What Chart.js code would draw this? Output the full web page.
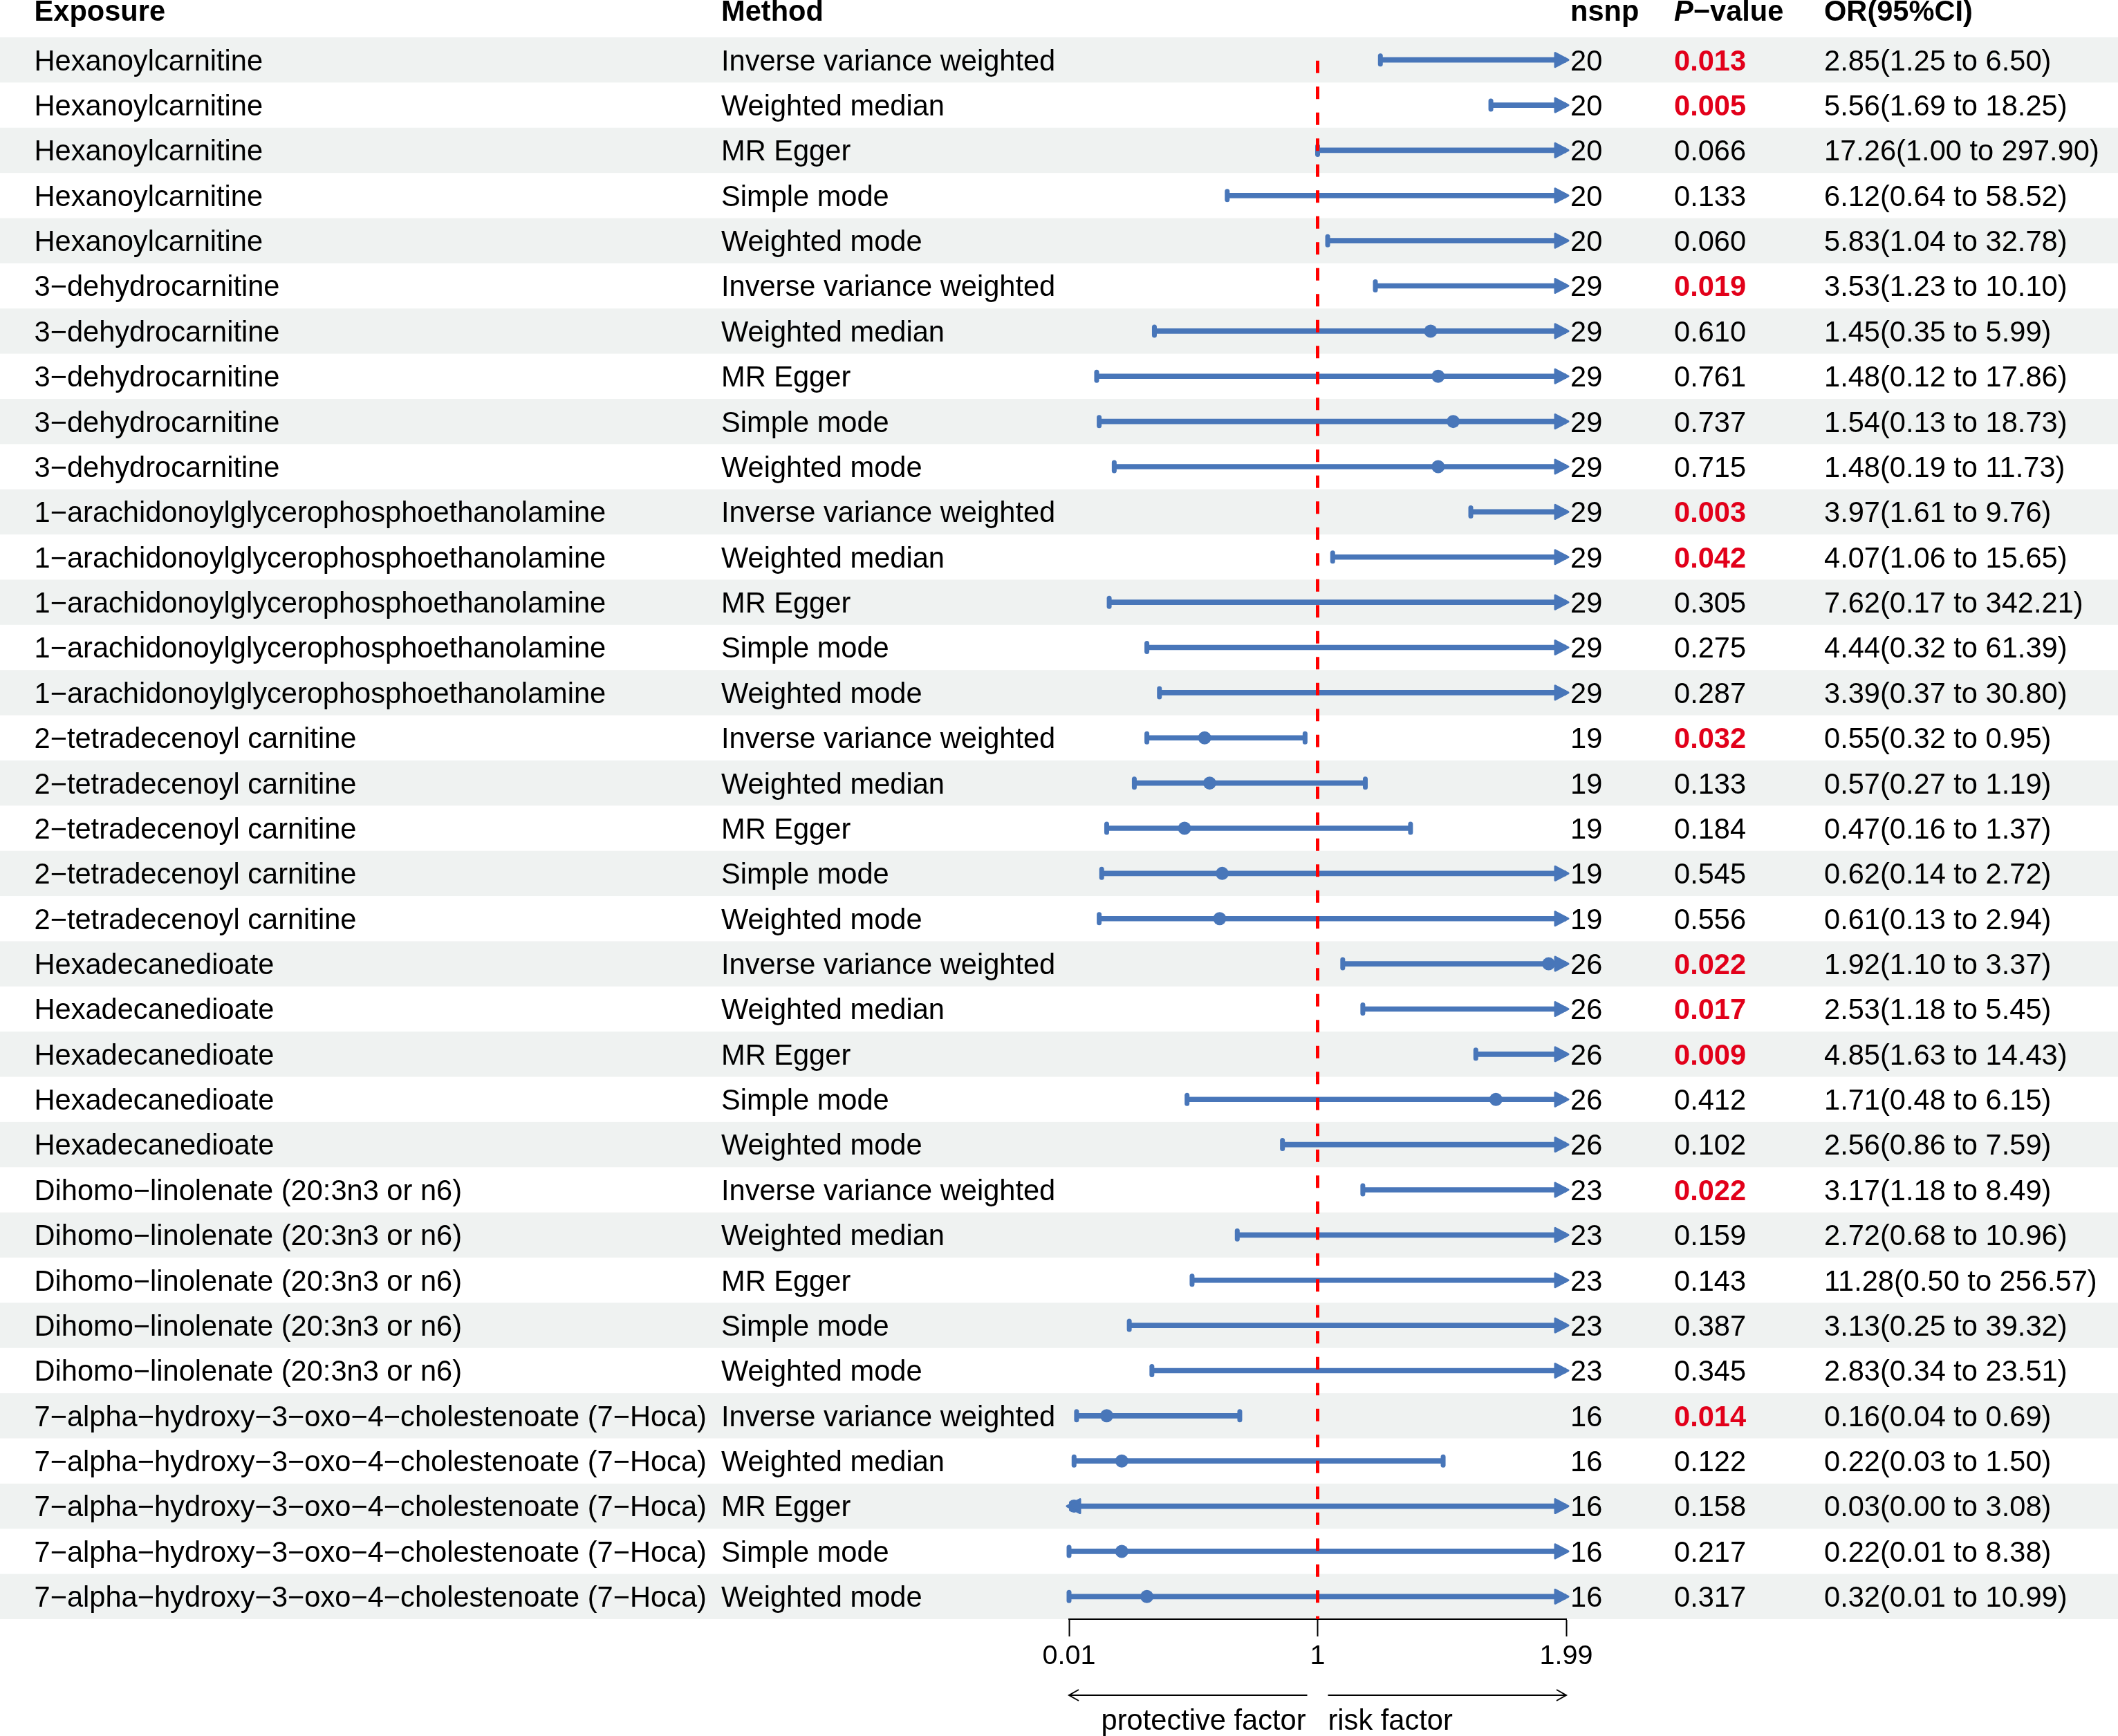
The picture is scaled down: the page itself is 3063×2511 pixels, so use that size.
<!DOCTYPE html>
<html>
<head>
<meta charset="utf-8">
<script src="https://cdn.jsdelivr.net/npm/chart.js@4.4.1/dist/chart.umd.min.js"></script>
<style>
html,body{margin:0;padding:0;background:#fff;}
#wrap{width:3063px;height:2511px;position:relative;}
canvas{display:block;}
</style>
</head>
<body>
<div id="wrap"><canvas id="c" width="3063" height="2511" style="width:3063px;height:2511px"></canvas></div>
<script>
// ---------------- data ----------------
const exposures = [
  "Hexanoylcarnitine",
  "3\u2212dehydrocarnitine",
  "1\u2212arachidonoylglycerophosphoethanolamine",
  "2\u2212tetradecenoyl carnitine",
  "Hexadecanedioate",
  "Dihomo\u2212linolenate (20:3n3 or n6)",
  "7\u2212alpha\u2212hydroxy\u22123\u2212oxo\u22124\u2212cholestenoate (7\u2212Hoca)"
];
const methods = ["Inverse variance weighted","Weighted median","MR Egger","Simple mode","Weighted mode"];
const nsnp = [20, 29, 29, 19, 26, 23, 16];
const pValues = [
  0.013, 0.005, 0.066, 0.133, 0.060,
  0.019, 0.610, 0.761, 0.737, 0.715,
  0.003, 0.042, 0.305, 0.275, 0.287,
  0.032, 0.133, 0.184, 0.545, 0.556,
  0.022, 0.017, 0.009, 0.412, 0.102,
  0.022, 0.159, 0.143, 0.387, 0.345,
  0.014, 0.122, 0.158, 0.217, 0.317
];
const orValues = [
  2.85, 5.56, 17.26, 6.12, 5.83,
  3.53, 1.45, 1.48, 1.54, 1.48,
  3.97, 4.07, 7.62, 4.44, 3.39,
  0.55, 0.57, 0.47, 0.62, 0.61,
  1.92, 2.53, 4.85, 1.71, 2.56,
  3.17, 2.72, 11.28, 3.13, 2.83,
  0.16, 0.22, 0.03, 0.22, 0.32
];
const ciLower = [
  1.25, 1.69, 1.00, 0.64, 1.04,
  1.23, 0.35, 0.12, 0.13, 0.19,
  1.61, 1.06, 0.17, 0.32, 0.37,
  0.32, 0.27, 0.16, 0.14, 0.13,
  1.10, 1.18, 1.63, 0.48, 0.86,
  1.18, 0.68, 0.50, 0.25, 0.34,
  0.04, 0.03, 0.00, 0.01, 0.01
];
const ciUpper = [
  6.50, 18.25, 297.90, 58.52, 32.78,
  10.10, 5.99, 17.86, 18.73, 11.73,
  9.76, 15.65, 342.21, 61.39, 30.80,
  0.95, 1.19, 1.37, 2.72, 2.94,
  3.37, 5.45, 14.43, 6.15, 7.59,
  8.49, 10.96, 256.57, 39.32, 23.51,
  0.69, 1.50, 3.08, 8.38, 10.99
];
const xTicks = [0.01, 1, 1.99];
const headers = ["Exposure", "Method", "nsnp", "P", "\u2212value", "OR(95%CI)"];
const bottomLabels = ["protective factor", "risk factor"];

// ---------------- derived ----------------
const X_MIN = xTicks[0], X_MAX = xTicks[xTicks.length - 1], X_REF = xTicks[1];
const rowExposure = [], rowMethod = [], rowNsnp = [], rowLabels = [];
exposures.forEach((e, ei) => methods.forEach((m) => {
  rowExposure.push(e); rowMethod.push(m); rowNsnp.push(nsnp[ei]);
  rowLabels.push(e + " | " + m);
}));
const barData = ciLower.map((l, i) => [Math.max(l, X_MIN), Math.min(ciUpper[i], X_MAX)]);
const pointData = [];
orValues.forEach((v, i) => { if (v >= X_MIN && v <= X_MAX) pointData.push({x: v, y: rowLabels[i]}); });

// ---------------- style ----------------
const W = 3063, H = 2511;
const FONT = '"Liberation Sans", Arial, Helvetica, sans-serif';
const FS = 41.6;
const BLUE = "#4876B9";
const SHADE = "#EFF2F1";
const PRED = "#E2001A";
const COLS = {exposure: 49.5, method: 1043, nsnp: 2271, p: 2421, or: 2638};

function fmt2(v){ return v.toFixed(2); }

const bgPlugin = {
  id: 'bg',
  beforeDraw(chart){
    const {ctx, scales:{y}} = chart;
    ctx.save();
    ctx.fillStyle = '#fff';
    ctx.fillRect(0, 0, W, H);
    const band = y.getPixelForValue(1) - y.getPixelForValue(0);
    ctx.fillStyle = SHADE;
    rowLabels.forEach((lab, i) => {
      if (i % 2 === 0) {
        const cy = y.getPixelForValue(i);
        ctx.fillRect(0, cy - band / 2, W, band);
      }
    });
    ctx.restore();
  }
};

function drawCap(ctx, px, cy){
  ctx.beginPath();
  ctx.lineWidth = 7; ctx.lineCap = 'round';
  ctx.moveTo(px, cy - 6); ctx.lineTo(px, cy + 6);
  ctx.stroke();
}
function drawArrow(ctx, px, cy, dir){
  const tip = px + dir * 3, base = tip - dir * 19;
  ctx.beginPath();
  ctx.lineWidth = 3; ctx.lineJoin = 'round';
  ctx.moveTo(tip, cy);
  ctx.lineTo(base, cy - 10);
  ctx.lineTo(base, cy + 10);
  ctx.closePath();
  ctx.fill(); ctx.stroke();
}

const marksPlugin = {
  id: 'marks',
  afterDatasetsDraw(chart){
    const {ctx, scales:{x, y}, chartArea} = chart;
    ctx.save();
    ctx.fillStyle = BLUE; ctx.strokeStyle = BLUE;
    rowLabels.forEach((lab, i) => {
      const cy = y.getPixelForValue(i);
      const l = ciLower[i], h = ciUpper[i];
      if (l < X_MIN) drawArrow(ctx, x.getPixelForValue(X_MIN), cy, -1);
      else drawCap(ctx, x.getPixelForValue(l), cy);
      if (h > X_MAX) drawArrow(ctx, x.getPixelForValue(X_MAX), cy, 1);
      else drawCap(ctx, x.getPixelForValue(h), cy);
    });
    // reference line
    const rx = x.getPixelForValue(X_REF);
    ctx.beginPath();
    ctx.strokeStyle = '#FF0000';
    ctx.lineWidth = 5; ctx.lineCap = 'butt';
    ctx.setLineDash([18, 19.5]);
    ctx.moveTo(rx, y.getPixelForValue(0) + 1);
    ctx.lineTo(rx, chartArea.bottom);
    ctx.stroke();
    ctx.restore();
  }
};

const tablePlugin = {
  id: 'table',
  afterDraw(chart){
    const {ctx, scales:{x, y}, chartArea} = chart;
    ctx.save();
    ctx.textAlign = 'left';
    ctx.textBaseline = 'alphabetic';
    const capHalf = 0.716 * FS / 2;
    // header
    const hy = 30;
    ctx.fillStyle = '#000';
    ctx.font = `bold ${FS}px ${FONT}`;
    ctx.fillText(headers[0], COLS.exposure, hy);
    ctx.fillText(headers[1], COLS.method, hy);
    ctx.fillText(headers[2], COLS.nsnp, hy);
    ctx.font = `italic bold ${FS}px ${FONT}`;
    ctx.fillText(headers[3], COLS.p, hy);
    const pw = ctx.measureText(headers[3]).width;
    ctx.font = `bold ${FS}px ${FONT}`;
    ctx.fillText(headers[4], COLS.p + pw, hy);
    ctx.fillText(headers[5], COLS.or, hy);
    // rows
    rowLabels.forEach((lab, i) => {
      const by = y.getPixelForValue(i) + capHalf;
      ctx.font = `${FS}px ${FONT}`;
      ctx.fillStyle = '#000';
      ctx.fillText(rowExposure[i], COLS.exposure, by);
      ctx.fillText(rowMethod[i], COLS.method, by);
      ctx.fillText(String(rowNsnp[i]), COLS.nsnp, by);
      ctx.fillText(`${fmt2(orValues[i])}(${fmt2(ciLower[i])} to ${fmt2(ciUpper[i])})`, COLS.or, by);
      const p = pValues[i];
      if (p < 0.05) { ctx.font = `bold ${FS}px ${FONT}`; ctx.fillStyle = PRED; }
      ctx.fillText(p.toFixed(3), COLS.p, by);
    });
    // bottom direction arrows
    const x0 = x.getPixelForValue(X_MIN), x1 = x.getPixelForValue(X_REF), x2 = x.getPixelForValue(X_MAX);
    const ay = 2452;
    ctx.strokeStyle = '#000'; ctx.lineWidth = 2; ctx.lineCap = 'butt'; ctx.lineJoin = 'miter';
    ctx.beginPath();
    ctx.moveTo(x1 - 15, ay); ctx.lineTo(x0, ay);
    ctx.moveTo(x0 + 14, ay - 8); ctx.lineTo(x0, ay); ctx.lineTo(x0 + 14, ay + 8);
    ctx.moveTo(x1 + 15, ay); ctx.lineTo(x2, ay);
    ctx.moveTo(x2 - 14, ay - 8); ctx.lineTo(x2, ay); ctx.lineTo(x2 - 14, ay + 8);
    ctx.stroke();
    ctx.fillStyle = '#000';
    ctx.font = `${FS}px ${FONT}`;
    ctx.textAlign = 'right';
    ctx.fillText(bottomLabels[0], x1 - 17, 2502);
    ctx.textAlign = 'left';
    ctx.fillText(bottomLabels[1], x1 + 15, 2502);
    ctx.restore();
  }
};

new Chart(document.getElementById('c'), {
  type: 'bar',
  data: {
    labels: rowLabels,
    datasets: [
      {
        type: 'scatter',
        label: 'OR',
        data: pointData,
        order: 0,
        pointRadius: 9.5,
        pointHoverRadius: 9.5,
        backgroundColor: BLUE,
        borderColor: BLUE,
        borderWidth: 0
      },
      {
        type: 'bar',
        label: '95% CI',
        data: barData,
        order: 1,
        backgroundColor: BLUE,
        borderWidth: 0,
        borderSkipped: false,
        barThickness: 7
      }
    ]
  },
  options: {
    indexAxis: 'y',
    responsive: false,
    devicePixelRatio: 1,
    animation: false,
    events: [],
    layout: {padding: {left: 1546, right: 798, top: 54, bottom: 0}},
    plugins: {legend: {display: false}, tooltip: {enabled: false}},
    scales: {
      x: {
        type: 'linear',
        position: 'bottom',
        min: X_MIN,
        max: X_MAX,
        afterBuildTicks: (s) => { s.ticks = xTicks.map(v => ({value: v})); },
        afterFit: (s) => { s.height = 169; },
        grid: {drawOnChartArea: false, drawTicks: true, tickLength: 25, tickColor: '#000', tickWidth: 2},
        border: {display: true, color: '#000', width: 2},
        ticks: {
          font: {family: FONT, size: 39.5},
          color: '#000',
          padding: 5,
          maxRotation: 0,
          autoSkip: false,
          callback: (v) => String(v)
        }
      },
      y: {
        type: 'category',
        display: false,
        offset: true,
        grid: {display: false}
      }
    }
  },
  plugins: [bgPlugin, marksPlugin, tablePlugin]
});
</script>
</body>
</html>
